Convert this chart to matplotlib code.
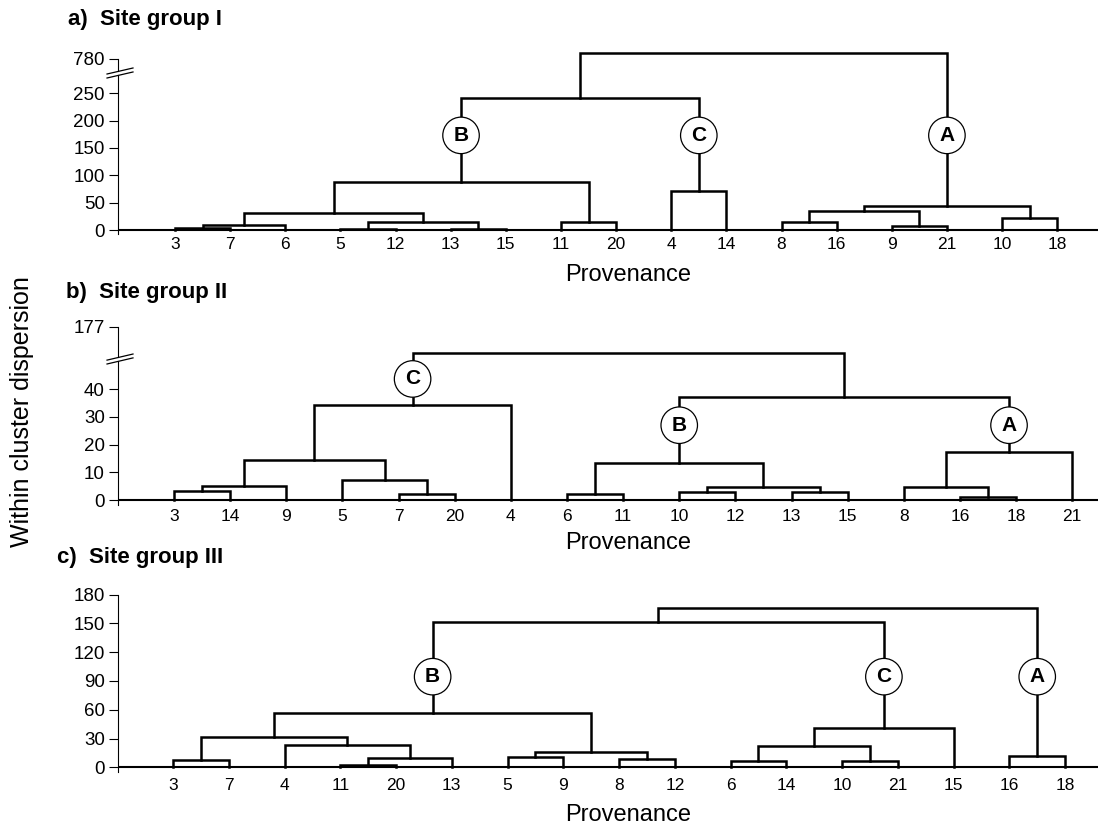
import numpy as np
import matplotlib
matplotlib.use("Agg")
import matplotlib.pyplot as plt

plt.rcParams['font.family'] = ['Liberation Sans', 'DejaVu Sans']

# leaves are numbered 0..16, each merge makes a new node 17, 18, ...
# a) Site group I
leaves_a = [3, 7, 6, 5, 12, 13, 15, 11, 20, 4, 14, 8, 16, 9, 21, 10, 18]
merges_a = [(0, 1), (17, 2), (3, 4), (5, 6), (19, 20), (18, 21), (7, 8), (22, 23),
            (9, 10), (24, 25), (11, 12), (13, 14), (27, 28), (15, 16), (29, 30), (26, 31)]
heights_a = [3, 9, 2, 2, 14.6, 31.6, 14.6, 88, 72, 241, 14.6, 7, 35, 22.5, 44, 800]
groups_a = {"B": 24, "C": 25, "A": 31}
yticks_a = [0, 50, 100, 150, 200, 250, 780]

# b) Site group II
leaves_b = [3, 14, 9, 5, 7, 20, 4, 6, 11, 10, 12, 13, 15, 8, 16, 18, 21]
merges_b = [(0, 1), (17, 2), (4, 5), (3, 19), (18, 20), (21, 6), (7, 8), (9, 10),
            (11, 12), (24, 25), (23, 26), (14, 15), (13, 28), (29, 16), (27, 30), (22, 31)]
heights_b = [3.2, 5.0, 2.0, 7.2, 14.4, 34.3, 2.0, 3.0, 3.0, 4.8, 13.5, 1.0, 4.8, 17.2, 37.3, 150]
groups_b = {"C": 22, "B": 27, "A": 30}
yticks_b = [0, 10, 20, 30, 40, 177]

# c) Site group III
leaves_c = [3, 7, 4, 11, 20, 13, 5, 9, 8, 12, 6, 14, 10, 21, 15, 16, 18]
merges_c = [(0, 1), (3, 4), (18, 5), (2, 19), (17, 20), (6, 7), (8, 9), (22, 23),
            (21, 24), (10, 11), (12, 13), (26, 27), (28, 14), (25, 29), (15, 16), (30, 31)]
heights_c = [7.6, 2.5, 9.4, 23.2, 31.2, 10.4, 8.6, 15.6, 56.2, 6.9, 6.9, 22.5, 41.3, 151, 11.8, 166]
groups_c = {"B": 25, "C": 29, "A": 31}
yticks_c = [0, 30, 60, 90, 120, 150, 180]

W, H = 1101, 827
fig = plt.figure(figsize=(W / 100, H / 100), dpi=100)


def draw_tree(ax, merges, heights):
    xs = list(range(len(merges) + 1))
    hs = [0.0] * len(xs)
    for (l, r), h in zip(merges, heights):
        ax.plot([xs[l], xs[l], xs[r], xs[r]], [hs[l], h, h, hs[r]],
                color='k', lw=1.8, solid_joinstyle='miter', zorder=2)
        xs.append((xs[l] + xs[r]) / 2)
        hs.append(h)
    return xs


def panel(top_px, bot_px, xlim, ylim, knots, leaves, merges, heights, groups,
          circle_h, yticks, breaks, xpad):
    ax = fig.add_axes([118 / W, 1 - bot_px / H, (1098 - 118) / W, (bot_px - top_px) / H])
    real, disp = knots
    fwd = lambda v: np.interp(v, real, disp)
    inv = lambda d: np.interp(d, disp, real)
    if len(real) > 2:
        ax.set_yscale('function', functions=(fwd, inv))
    xs = draw_tree(ax, merges, heights)
    for name, node in groups.items():
        ax.text(xs[node], inv(circle_h[name]), name, ha='center', va='center',
                fontsize=15, fontweight='bold', zorder=5,
                bbox=dict(boxstyle='circle,pad=0.42', fc='white', ec='k', lw=0.9))
    ax.axhline(0, color='k', lw=1.5, zorder=1)
    ax.set_xlim(*xlim)
    ax.set_ylim(*ylim)
    for s in ax.spines.values():
        s.set_visible(False)
    ax.set_xticks(range(len(leaves)))
    ax.set_xticklabels([str(v) for v in leaves], fontsize=12.5)
    ax.tick_params(axis='x', length=0, pad=xpad)
    ax.set_yticks(yticks)
    ax.set_yticklabels([str(v) for v in yticks], fontsize=13.5)
    ax.yaxis.set_minor_locator(matplotlib.ticker.NullLocator())
    ax.tick_params(axis='y', length=6.5, width=0.8, pad=3, direction='out')
    tr = ax.get_yaxis_transform()
    # left spine, interrupted by the break marks
    if breaks is None:
        ax.plot([0, 0], [ylim[0], yticks[-1]], transform=tr, color='k', lw=0.8, clip_on=False)
    else:
        lo, hi, rise = breaks
        ax.plot([0, 0], [ylim[0], inv(lo)], transform=tr, color='k', lw=0.8, clip_on=False)
        ax.plot([0, 0], [inv(hi), yticks[-1]], transform=tr, color='k', lw=0.8, clip_on=False)
        for c in (lo, hi):
            ax.plot([-0.0112, 0.0153], [inv(c - rise), inv(c + rise)], transform=tr,
                    color='k', lw=0.9, clip_on=False)
    return ax


# a) broken axis between 250 and 780
panel(49.5, 234.4, (-1.034, 16.74), (-8, 814),
      ([-100, 260, 760, 1000], [-100, 260, 303, 423]),
      leaves_a, merges_a, heights_a, groups_a, {"A": 173, "B": 173, "C": 173},
      yticks_a, (283.4, 290.7, 5.5), 2)

# b) broken axis between 40 and 177
panel(317.2, 505, (-0.998, 16.46), (-1.8, 186.7),
      ([-50, 46, 150, 177, 400], [-50, 46, 53.2, 62.6, 140.6]),
      leaves_b, merges_b, heights_b, groups_b, {"A": 27, "B": 27, "C": 43.7},
      yticks_b, (50.2, 51.6, 1.1), 3)

# c) plain linear axis
panel(589.7, 772.1, (-0.987, 16.59), (-5, 185),
      ([-100, 1000], [-100, 1000]),
      leaves_c, merges_c, heights_c, groups_c, {"A": 94.4, "B": 94.4, "C": 94.4},
      yticks_c, None, 4)

titles = ["a)  Site group I", "b)  Site group II", "c)  Site group III"]
for t, (x, y) in zip(titles, [(68, 20), (66, 293), (57, 557)]):
    fig.text(x / W, 1 - y / H, t, fontsize=16, fontweight='bold', ha='left', va='center')
for y in (275, 543, 815):
    fig.text(628 / W, 1 - y / H, "Provenance", fontsize=17, ha='center', va='center')
fig.text(22 / W, 1 - 412 / H, "Within cluster dispersion", fontsize=18,
         rotation=90, ha='center', va='center')

fig.savefig("out.png", dpi=100)
